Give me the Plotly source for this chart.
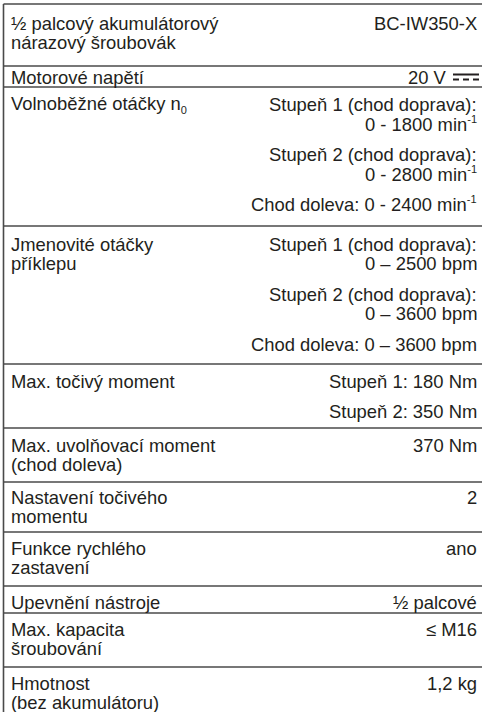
import plotly.graph_objects as go

# ---- data (table content) ----
SUP = "<sup><span style='font-size:11px'>-1</span></sup>"
labels = [
    ["½ palcový akumulátorový", "nárazový šroubovák"],
    ["Motorové napětí"],
    ["Volnoběžné otáčky n<sub><span style='font-size:11px'>0</span></sub>"],
    ["Jmenovité otáčky", "příklepu"],
    ["Max. točivý moment"],
    ["Max. uvolňovací moment", "(chod doleva)"],
    ["Nastavení točivého", "momentu"],
    ["Funkce rychlého", "zastavení"],
    ["Upevnění nástroje"],
    ["Max. kapacita", "šroubování"],
    ["Hmotnost", "(bez akumulátoru)"],
]

values = [
    [["BC-IW350-X"]],
    [["20 V"]],
    [["Stupeň 1 (chod doprava):", "0 - 1800 min" + SUP],
     ["Stupeň 2 (chod doprava):", "0 - 2800 min" + SUP],
     ["Chod doleva: 0 - 2400 min" + SUP]],
    [["Stupeň 1 (chod doprava):", "0 – 2500 bpm"],
     ["Stupeň 2 (chod doprava):", "0 – 3600 bpm"],
     ["Chod doleva: 0 – 3600 bpm"]],
    [["Stupeň 1: 180 Nm"], ["Stupeň 2: 350 Nm"]],
    [["370 Nm"]],
    [["2"]],
    [["ano"]],
    [["½ palcové"]],
    [["≤ M16"]],
    [["1,2 kg"]],
]

# rows whose value is followed by a direct-current symbol
dc_symbol_rows = [1]

# ---- layout constants (pixels) ----
W, H = 482, 712
TOP = 4
ROW_HEIGHTS = [62, 21, 139, 138, 64, 54, 50, 54, 27, 54, 60]
FIRST_OFFSET = [19, 11, 17, 18, 17, 17, 15, 16, 16, 16, 16]
LINE_STEP = 19.5
PARA_STEP = 30.5
LEFT_X = 9
RIGHT_X = 479
SYMBOL_W = 26
SYMBOL_GAP = 4
BORDER_X = 3.5
TEXT_COLOR = "#231f20"
LINE_COLOR = "#4a4a4a"
FONT = dict(family="Liberation Sans, Arial, sans-serif", size=18.4, color=TEXT_COLOR)

fig = go.Figure()
annotations = []
shapes = []


def hline(yv):
    shapes.append(dict(type="line", x0=BORDER_X, x1=W, y0=yv, y1=yv, xref="x", yref="y",
                       line=dict(color=LINE_COLOR, width=1.6)))


y = TOP
hline(y)
for i, (lab, val) in enumerate(zip(labels, values)):
    top = y
    first = top + FIRST_OFFSET[i]
    for j, t in enumerate(lab):
        annotations.append(dict(x=LEFT_X, y=first + j * LINE_STEP, text=t, xref="x", yref="y",
                                xanchor="left", yanchor="middle", showarrow=False, font=FONT))
    py = first
    for para in val:
        for j, t in enumerate(para):
            ty = py + j * LINE_STEP
            rx = RIGHT_X
            if i in dc_symbol_rows:
                sx1 = RIGHT_X
                sx0 = RIGHT_X - SYMBOL_W
                shapes.append(dict(type="line", x0=sx0, x1=sx1, y0=ty - 2.5, y1=ty - 2.5,
                                   xref="x", yref="y", line=dict(color=TEXT_COLOR, width=2)))
                shapes.append(dict(type="line", x0=sx0, x1=sx1, y0=ty + 2.5, y1=ty + 2.5,
                                   xref="x", yref="y",
                                   line=dict(color=TEXT_COLOR, width=2, dash="6px,4px")))
                rx = sx0 - SYMBOL_GAP
            annotations.append(dict(x=rx, y=ty, text=t, xref="x", yref="y",
                                    xanchor="right", yanchor="middle", showarrow=False, font=FONT))
        py += (len(para) - 1) * LINE_STEP + PARA_STEP
    y = top + ROW_HEIGHTS[i]
    if i < len(labels) - 1:
        hline(y)

shapes.append(dict(type="line", x0=BORDER_X, x1=BORDER_X, y0=TOP, y1=H + 5, xref="x", yref="y",
                   line=dict(color=LINE_COLOR, width=1.6)))

fig.update_layout(
    width=W, height=H,
    margin=dict(l=0, r=0, t=0, b=0, autoexpand=False),
    paper_bgcolor="white", plot_bgcolor="white",
    xaxis=dict(range=[0, W], visible=False, fixedrange=True),
    yaxis=dict(range=[H, 0], visible=False, fixedrange=True),
    annotations=annotations,
    shapes=shapes,
    showlegend=False,
)

fig.write_html("out.html", config={"displayModeBar": False},
               post_script="document.body.style.margin='0';document.body.style.overflow='hidden';")
